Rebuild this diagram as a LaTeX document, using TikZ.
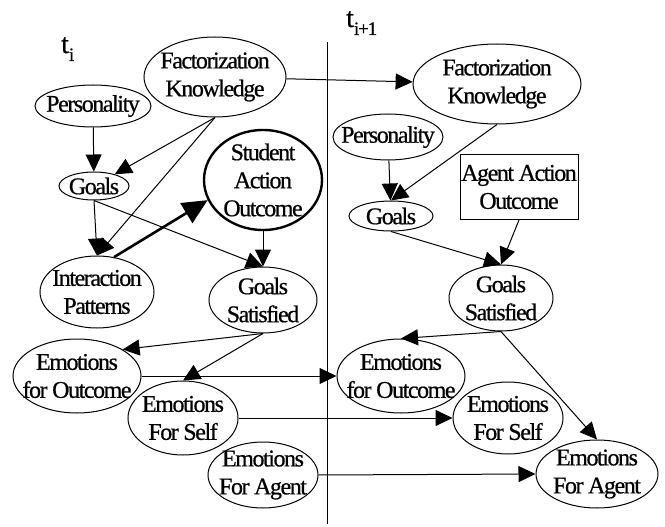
\documentclass[tikz,border=0pt]{standalone}
\usepackage{fontspec}
\setmainfont{Liberation Serif}[LetterSpace=-6,FakeBold=0.6]
\usetikzlibrary{shapes.geometric,arrows.meta}

\begin{document}
\begin{tikzpicture}[x=1pt,y=-1pt,font=\fontsize{24}{28}\selectfont,
  ell/.style={ellipse,draw,line width=1pt,inner sep=0pt},
  lbl/.style={label={[align=center,inner sep=0pt]center:#1}},
  arr/.style={line width=1pt,-{Triangle[length=17pt,width=16pt]}},
  thickarr/.style={line width=2.6pt,-{Triangle[length=25pt,width=23pt]}}]
\useasboundingbox (0,0) rectangle (665,527);
% Zeitachse
\draw[line width=1pt] (327,42) -- (327,524); % Trennlinie
\node[anchor=base west,inner sep=0pt,font=\fontsize{28}{28}\selectfont] (ti) at (61,53) {t\raisebox{-8pt}{\fontsize{19}{19}\selectfont i}};
\node[anchor=base west,inner sep=0pt,font=\fontsize{28}{28}\selectfont] (tii) at (346,27) {t\raisebox{-8pt}{\fontsize{19}{19}\selectfont i+1}};
% Zeitscheibe t_i
\node[ell,minimum width=142,minimum height=80,lbl={Factorization\\Knowledge}] (FKL) at (215,77) {};
\node[ell,minimum width=116,minimum height=42,lbl={Personality}] (PersL) at (93,106) {};
\node[ell,minimum width=70,minimum height=28,lbl={Goals}] (GoalsL) at (94,186) {};
\node[ell,line width=2.4pt,minimum width=118,minimum height=100,lbl={Student\\Action\\Outcome}] (SAO) at (263,180) {};
\node[ell,minimum width=114,minimum height=72,lbl={Interaction\\Patterns}] (IP) at (97,292) {};
\node[ell,minimum width=108,minimum height=66,lbl={Goals\\Satisfied}] (GSL) at (263,300) {};
\node[ell,minimum width=128,minimum height=74,lbl={Emotions\\for Outcome}] (EfOL) at (77,376) {};
\node[ell,minimum width=110,minimum height=74,lbl={Emotions\\For Self}] (EfSL) at (183,418) {};
\node[ell,minimum width=110,minimum height=66,lbl={Emotions\\For Agent}] (EfAL) at (263,475) {};
% Zeitscheibe t_{i+1}
\node[ell,minimum width=168,minimum height=80,lbl={Factorization\\Knowledge}] (FKR) at (497,84) {};
\node[ell,minimum width=110,minimum height=46,lbl={Personality}] (PersR) at (388,137) {};
\node[ell,minimum width=84,minimum height=30,lbl={Goals}] (GoalsR) at (391,216) {};
\node[draw,line width=1pt,inner sep=0pt,align=center,minimum width=118,minimum height=65] (AAO) at (519,187) {Agent Action\\Outcome};
\node[ell,minimum width=104,minimum height=66,lbl={Goals\\Satisfied}] (GSR) at (501,298) {};
\node[ell,minimum width=128,minimum height=74,lbl={Emotions\\for Outcome}] (EfOR) at (401,376) {};
\node[ell,minimum width=110,minimum height=72,lbl={Emotions\\For Self}] (EfSR) at (508,418) {};
\node[ell,minimum width=122,minimum height=68,lbl={Emotions\\For Agent}] (EfAR) at (597,474) {};
% Kanten links
\draw[arr] (PersL) -- (GoalsL);
\draw[arr] (FKL.south) -- (GoalsL);
\draw[arr] (FKL.south) -- (IP.north);
\draw[arr] (GoalsL.south) -- (IP.north);
\draw[thickarr] (IP.64) -- (SAO.200);
\draw[arr] (GoalsL.south) -- (GSL.north);
\draw[arr] (SAO) -- (GSL);
\draw[arr] (GSL.south) -- (EfOL.north east);
\draw[arr] (GSL.south) -- (EfSL.north);
% Kanten rechts
\draw[arr] (PersR) -- (GoalsR);
\draw[arr] (FKR.south) -- (GoalsR.north);
\draw[arr] (GoalsR.south) -- (GSR.north);
\draw[arr] (AAO.south) -- (GSR.north);
\draw[arr] (GSR.south) -- (EfOR.north);
\draw[arr] (GSR.south) -- (EfAR.north);
% Kanten zwischen den Zeitscheiben
\draw[arr] (FKL) -- (FKR);
\draw[arr] (EfOL) -- (EfOR);
\draw[arr] (EfSL) -- (EfSR);
\draw[arr] (EfAL.east) -- (EfAR.west);
\end{tikzpicture}
\end{document}
